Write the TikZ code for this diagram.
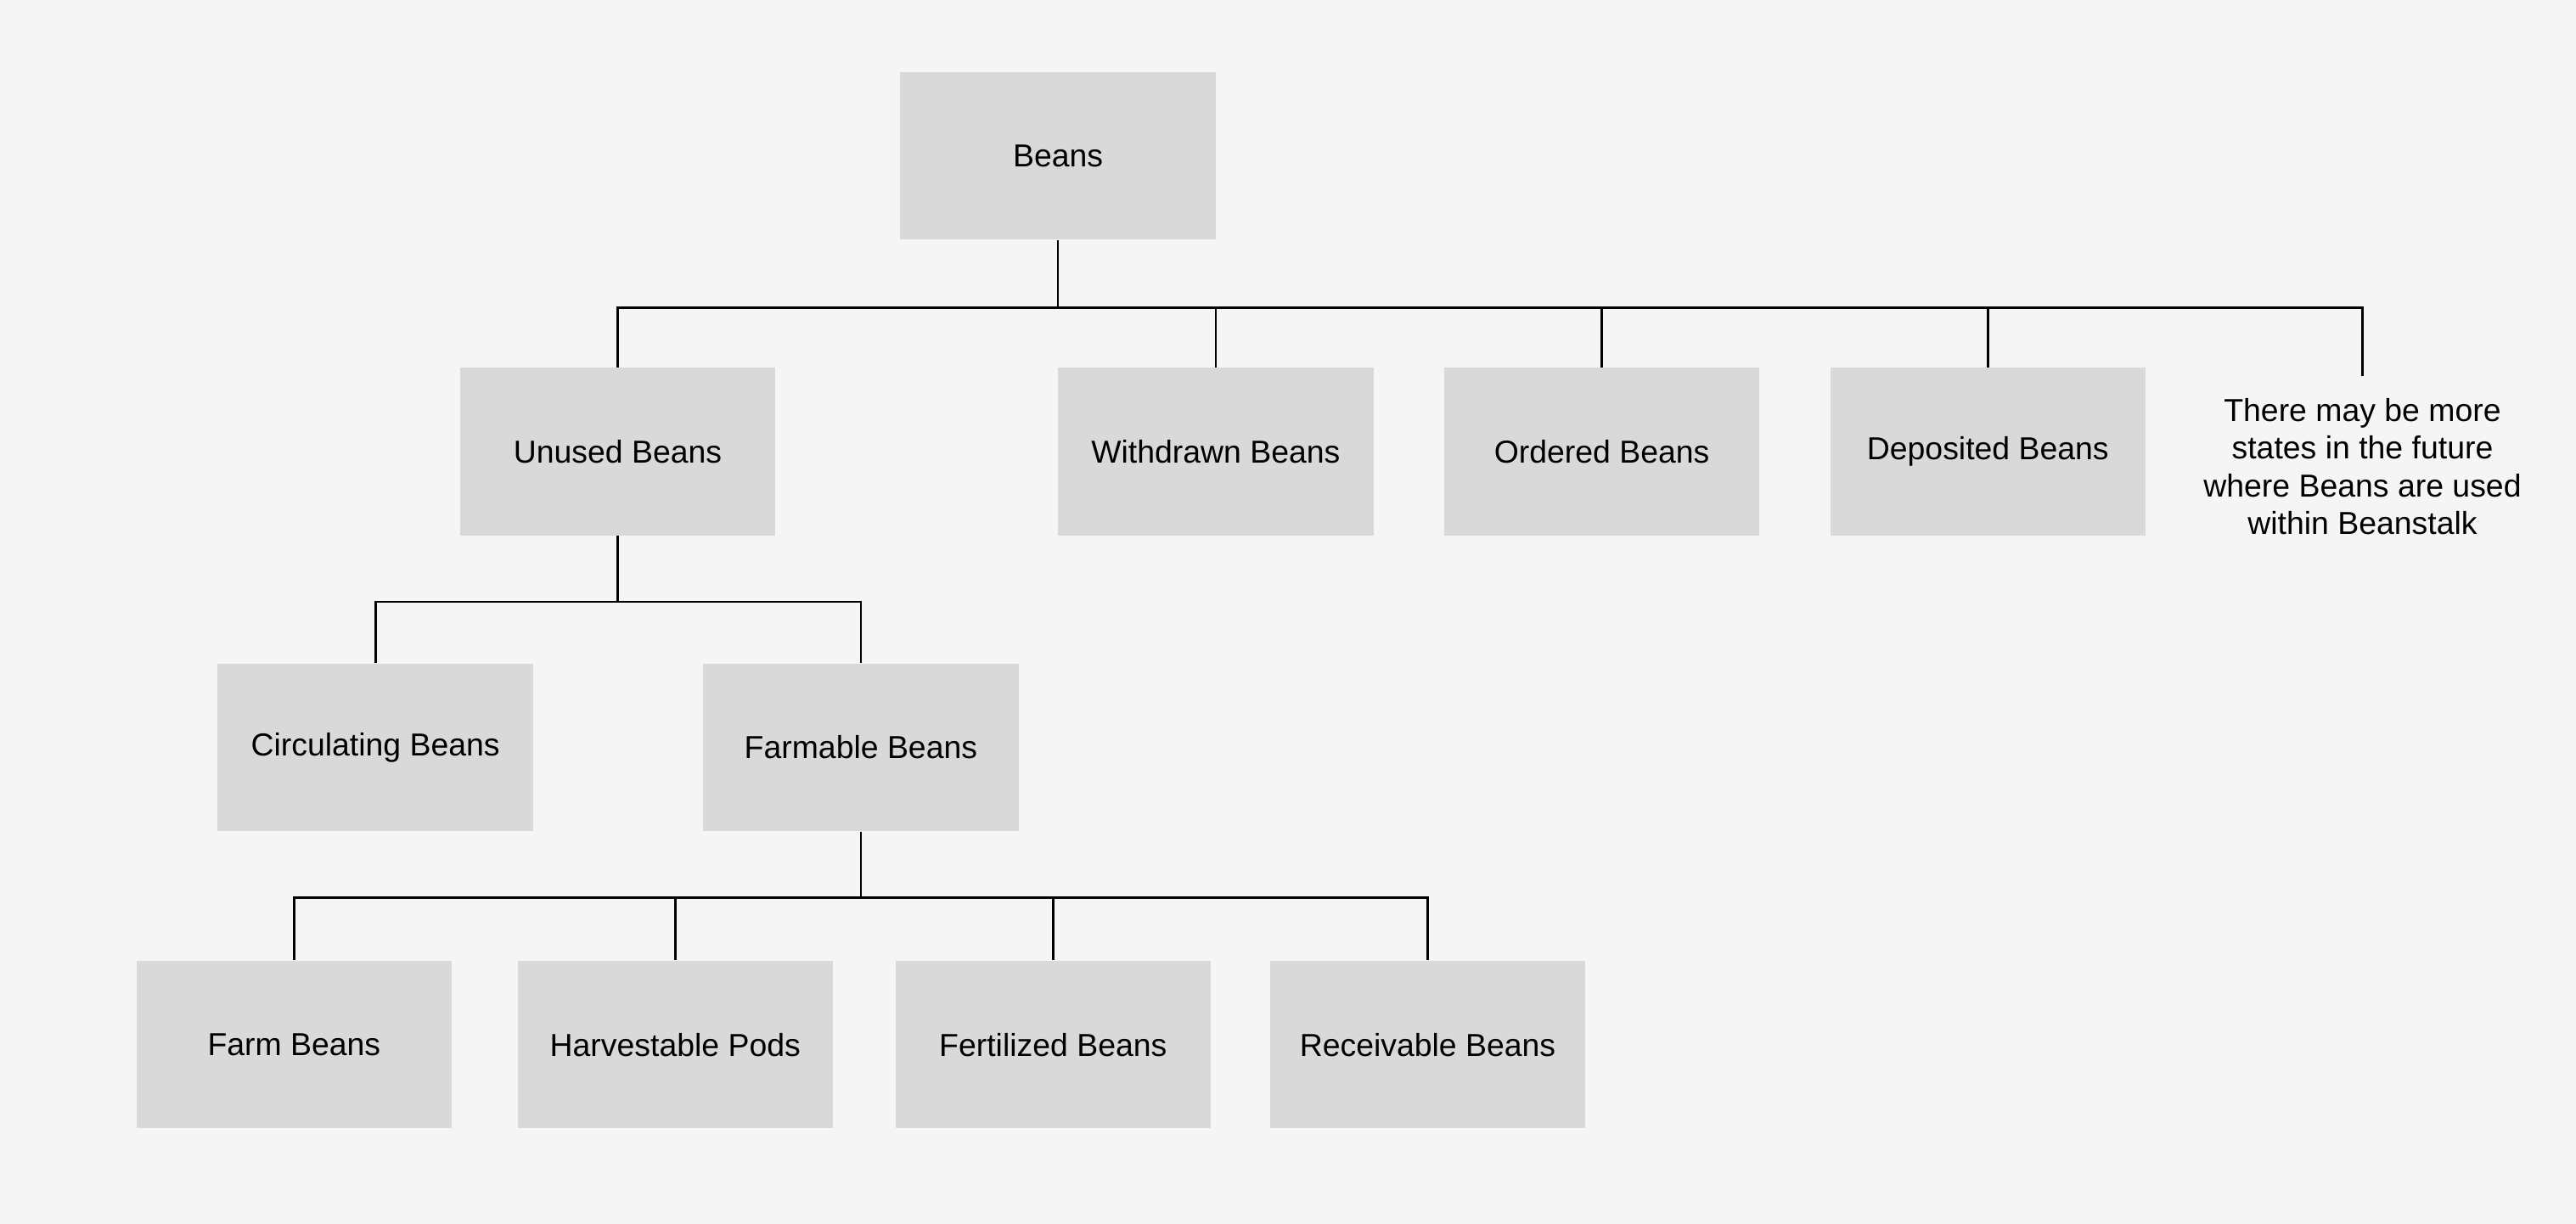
\documentclass[tikz,border=0pt]{standalone}
\usepackage{fontspec}
\setmainfont{Liberation Sans}
\usepackage{tikz}

\definecolor{bgcolor}{HTML}{F5F5F5}
\definecolor{boxcolor}{HTML}{D9D9D9}

\begin{document}
\begin{tikzpicture}[
    beanbox/.style={fill=boxcolor, minimum width=3.84cm, minimum height=2.04cm, inner sep=0pt},
    link/.style={line width=0.8pt, black},
    every node/.style={font=\fontsize{11}{13}\selectfont}
  ]
    % Draw the background
    \fill[bgcolor] (0,0) rectangle (31.36,-14.9);

    % Draw the top box
    \node[beanbox] (beans) at (12.88,-1.90) {Beans};

    % Draw the second row
    \node[beanbox] (unused) at (7.52,-5.50) {Unused Beans};
    \node[beanbox] (withdrawn) at (14.80,-5.50) {Withdrawn Beans};
    \node[beanbox] (ordered) at (19.50,-5.50) {Ordered Beans};
    \node[beanbox] (deposited) at (24.20,-5.50) {Deposited Beans};
    \node[align=center, inner sep=0.27cm] (note) at (28.76,-5.68)
        {There may be more\\states in the future\\where Beans are used\\within Beanstalk};

    % Draw the third row
    \node[beanbox] (circulating) at (4.57,-9.10) {Circulating Beans};
    \node[beanbox] (farmable) at (10.48,-9.10) {Farmable Beans};

    % Draw the bottom row
    \node[beanbox] (farm) at (3.58,-12.72) {Farm Beans};
    \node[beanbox] (harvestable) at (8.22,-12.72) {Harvestable Pods};
    \node[beanbox] (fertilized) at (12.82,-12.72) {Fertilized Beans};
    \node[beanbox] (receivable) at (17.38,-12.72) {Receivable Beans};

    % Draw the connectors
    \foreach \child in {unused,withdrawn,ordered,deposited,note}
        \draw[link] (beans.south) -- ++(0,-0.82) -| (\child.north);
    \foreach \child in {circulating,farmable}
        \draw[link] (unused.south) -- ++(0,-0.80) -| (\child.north);
    \foreach \child in {farm,harvestable,fertilized,receivable}
        \draw[link] (farmable.south) -- ++(0,-0.80) -| (\child.north);
\end{tikzpicture}
\end{document}
